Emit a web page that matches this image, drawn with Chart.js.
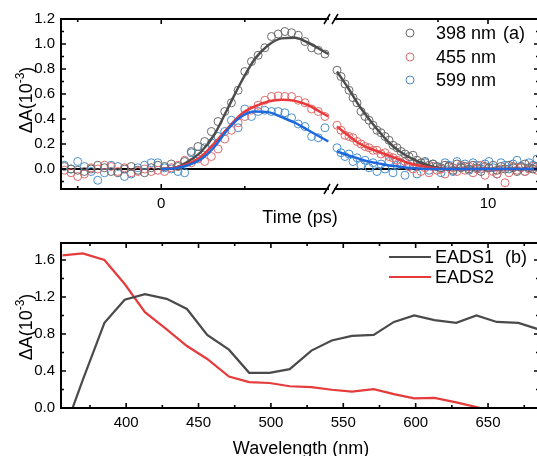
<!DOCTYPE html>
<html>
<head>
<meta charset="utf-8">
<script src="https://cdn.jsdelivr.net/npm/chart.js@4.4.0/dist/chart.umd.min.js"></script>
<style>
  html, body { margin: 0; padding: 0; background: #fff; overflow: hidden; }
  #wrap { position: relative; width: 537px; height: 456px; overflow: hidden; }
  canvas { position: absolute; left: 0; }
  #top { top: 0; }
  #bottom { top: 228px; }
</style>
</head>
<body>
<div id="wrap">
  <canvas id="top" width="545" height="228"></canvas>
  <canvas id="bottom" width="545" height="228"></canvas>
</div>
<script>
// Kinetics, before the axis break (ps)
const timeLeft = [-2.9, -2.7, -2.5, -2.3, -2.1, -1.9, -1.7, -1.5, -1.3, -1.1, -0.9, -0.7, -0.5, -0.3, -0.1,
  0.1, 0.3, 0.5, 0.7, 0.9, 1.1, 1.3, 1.5, 1.7, 1.9, 2.1, 2.3, 2.5, 2.7, 2.9, 3.1, 3.3, 3.5, 3.7, 3.9, 4.1, 4.3, 4.5, 4.7, 4.9];
const kin398Left = [0.02, 0.00, -0.01, -0.02, 0.00, 0.03, 0.01, -0.02, -0.03, 0.00, 0.02, -0.01, -0.03, 0.01, 0.03,
  0.02, 0.04, 0.02, 0.06, 0.14, 0.18, 0.22, 0.30, 0.38, 0.46, 0.53, 0.63, 0.78, 0.86, 0.91, 0.97, 1.06, 1.08, 1.10, 1.09, 1.07, 1.02, 0.97, 0.95, 0.92];
const kin455Left = [-0.01, -0.03, -0.06, -0.04, 0.01, 0.00, 0.03, 0.02, -0.02, 0.01, -0.03, -0.02, 0.00, -0.02, -0.01,
  -0.02, 0.01, 0.03, 0.07, 0.05, 0.08, 0.06, 0.10, 0.16, 0.24, 0.31, 0.37, 0.42, 0.47, 0.51, 0.55, 0.58, 0.585, 0.58, 0.58, 0.55, 0.53, 0.48, 0.46, 0.42];
const kin599Left = [0.03, 0.00, 0.06, 0.02, -0.02, -0.09, -0.03, 0.03, 0.02, -0.06, -0.04, 0.01, 0.03, 0.05, 0.05,
  0.01, 0.00, -0.02, -0.03, 0.13, 0.12, 0.17, 0.21, 0.26, 0.30, 0.39, 0.33, 0.48, 0.42, 0.46, 0.47, 0.46, 0.46, 0.45, 0.41, 0.36, 0.34, 0.26, 0.25, 0.33];

// Kinetics, after the axis break
const timeRight = [2.45, 2.65, 2.85, 3.05, 3.25, 3.45, 3.65, 3.85, 4.05, 4.25, 4.45, 4.65, 4.85, 5.05, 5.25, 5.45, 5.65,
  5.85, 6.05, 6.25, 6.45, 6.65, 6.85, 7.05, 7.25, 7.45, 7.65, 7.85, 8.05, 8.25, 8.45, 8.65, 8.85, 9.05, 9.25, 9.45,
  9.65, 9.85, 10.05, 10.25, 10.45, 10.65, 10.85, 11.05, 11.25, 11.45, 11.65, 11.85, 12.05, 12.25, 12.45];
const kin398Right = [0.79, 0.74, 0.68, 0.63, 0.57, 0.53, 0.46, 0.42, 0.39, 0.35, 0.31, 0.29, 0.26, 0.23, 0.19, 0.17, 0.14,
  0.12, 0.10, 0.11, 0.07, 0.05, 0.06, 0.03, 0.04, 0.02, 0.01, 0.03, 0.02, -0.01, 0.04, 0.01, 0.02, 0.00, 0.03, 0.01,
  -0.02, 0.02, 0.01, 0.03, -0.01, 0.02, 0.00, 0.03, 0.01, -0.02, 0.02, 0.04, 0.01, 0.00, 0.02];
const kin455Right = [0.35, 0.31, 0.27, 0.26, 0.25, 0.22, 0.20, 0.18, 0.17, 0.15, 0.15, 0.12, 0.13, 0.10, 0.09, 0.07, 0.04,
  0.06, 0.02, 0.00, 0.03, -0.02, 0.01, -0.03, 0.02, -0.01, 0.00, -0.04, 0.02, 0.01, -0.02, 0.03, -0.01, 0.02, -0.03, 0.00,
  0.03, -0.05, 0.01, -0.02, -0.04, 0.00, -0.11, -0.03, 0.02, -0.01, 0.01, -0.02, 0.00, 0.02, -0.01];
const kin599Right = [0.17, 0.13, 0.10, 0.12, 0.06, 0.09, 0.03, 0.07, 0.01, 0.05, -0.02, 0.04, 0.00, 0.06, -0.03, 0.03, 0.05,
  -0.05, 0.02, 0.04, -0.04, 0.03, 0.05, -0.01, 0.04, 0.02, -0.03, 0.05, 0.03, -0.02, 0.06, 0.02, 0.04, -0.01, 0.05, 0.03,
  0.00, 0.04, 0.06, 0.01, -0.04, 0.05, 0.03, 0.00, 0.04, 0.07, 0.02, -0.02, 0.05, 0.03, 0.08];

// Global fit curves
const fitTimeLeft = [0, 0.4, 0.8, 1.2, 1.6, 2.0, 2.4, 2.8, 3.2, 3.6, 4.0, 4.4, 4.8, 5.0];
const fit398Left = [0, 0.01, 0.06, 0.14, 0.28, 0.49, 0.70, 0.88, 0.99, 1.045, 1.05, 1.01, 0.95, 0.92];
const fit455Left = [0, 0.01, 0.04, 0.10, 0.21, 0.33, 0.44, 0.50, 0.54, 0.555, 0.545, 0.51, 0.45, 0.42];
const fit599Left = [0, 0.005, 0.03, 0.08, 0.18, 0.32, 0.42, 0.46, 0.455, 0.415, 0.37, 0.31, 0.25, 0.22];
const fitTimeRight = [2.45, 3.0, 3.5, 4.0, 4.5, 5.0, 5.5, 6.0, 6.5, 7.0, 7.5, 8.0, 12.45];
const fit398Right = [0.78, 0.65, 0.52, 0.41, 0.31, 0.22, 0.15, 0.10, 0.06, 0.03, 0.01, 0, 0];
const fit455Right = [0.34, 0.27, 0.21, 0.17, 0.14, 0.11, 0.08, 0.05, 0.03, 0.015, 0.005, 0, 0];
const fit599Right = [0.14, 0.11, 0.085, 0.06, 0.045, 0.03, 0.02, 0.01, 0.005, 0, 0, 0, 0];

const kineticLabels = ['398 nm', '455 nm', '599 nm'];

// Decay-associated spectra
const wavelength = [356, 370, 385, 399, 413, 428, 442, 456, 471, 485, 499, 513, 528, 542, 556, 571, 585, 599, 613, 628, 642, 656, 671, 685];
const eads1 = [-0.30, 0.30, 0.92, 1.17, 1.23, 1.18, 1.07, 0.79, 0.63, 0.38, 0.38, 0.42, 0.62, 0.73, 0.78, 0.79, 0.93, 1.00, 0.95, 0.92, 1.00, 0.93, 0.92, 0.85];
const eads2 = [1.65, 1.67, 1.60, 1.34, 1.035, 0.85, 0.67, 0.53, 0.34, 0.28, 0.27, 0.235, 0.225, 0.197, 0.176, 0.204, 0.15, 0.105, 0.109, 0.06, 0.01, -0.05, -0.09, -0.1];
const eadsLabels = ['EADS1', 'EADS2'];

// Tick values
const topYTicks = [0, 0.2, 0.4, 0.6, 0.8, 1.0, 1.2];
const topYMinor = [-0.1, 0.1, 0.3, 0.5, 0.7, 0.9, 1.1];
const timeTicksLeft = [0];
const timeMinorLeft = [-2.5, 2.5];
const timeTicksRight = [10];
const timeMinorRight = [7.5, 12.5];
const botYTicks = [0, 0.4, 0.8, 1.2, 1.6];
const botYMinor = [0.2, 0.6, 1.0, 1.4];
const waveTicks = [400, 450, 500, 550, 600, 650];
const waveMinor = [375, 425, 475, 525, 575, 625, 675];

const FONT = "'Liberation Sans', Arial, sans-serif";
const GRAY = '#4d4d4d', RED = '#e8393c', BLUE = '#1c68dc';
const GRAY_PT = '#6a6a6a', RED_PT = '#df6b6b', BLUE_PT = '#4a8fcd';

Chart.defaults.font.family = FONT;
Chart.defaults.color = '#000';

const pts = (xs, ys) => xs.map((x, i) => ({x: x, y: ys[i]}));

function drawYTitle(ctx, x, y) {
  ctx.save();
  ctx.translate(x, y);
  ctx.rotate(-Math.PI / 2);
  ctx.fillStyle = '#000';
  ctx.textAlign = 'left';
  ctx.textBaseline = 'alphabetic';
  ctx.font = '18px ' + FONT;
  const w1 = ctx.measureText('\u0394A(10').width;
  const w3 = ctx.measureText(')').width;
  ctx.font = '12px ' + FONT;
  const w2 = ctx.measureText('-3').width;
  let cx = -(w1 + w2 + w3) / 2;
  ctx.font = '18px ' + FONT;
  ctx.fillText('\u0394A(10', cx, 0);
  cx += w1;
  ctx.font = '12px ' + FONT;
  ctx.fillText('-3', cx, -8);
  cx += w2;
  ctx.font = '18px ' + FONT;
  ctx.fillText(')', cx, 0);
  ctx.restore();
}

// frame with inward ticks, axis break, legend and titles
const frame = {
  id: 'frame',
  beforeDatasetsDraw(chart, args, o) {
    if (!o.zero) return;
    const {ctx, chartArea: a} = chart;
    const y = chart.scales.y.getPixelForValue(0);
    ctx.save();
    ctx.strokeStyle = '#000';
    ctx.lineWidth = 1.8;
    ctx.beginPath();
    ctx.moveTo(a.left, y);
    ctx.lineTo(a.right, y);
    ctx.stroke();
    ctx.restore();
  },
  afterDatasetsDraw(chart, args, o) {
    const {ctx, chartArea: a} = chart;
    ctx.save();
    ctx.strokeStyle = '#000';
    ctx.lineWidth = 2;
    ctx.strokeRect(a.left, a.top, a.right - a.left, a.bottom - a.top);

    ctx.lineWidth = 1.6;
    ctx.beginPath();
    o.x.forEach(t => {
      const s = chart.scales[t.id];
      [[t.major, 5], [t.minor, 3]].forEach(([vals, len]) => vals.forEach(v => {
        const px = s.getPixelForValue(v);
        ctx.moveTo(px, a.bottom); ctx.lineTo(px, a.bottom - len);
        ctx.moveTo(px, a.top); ctx.lineTo(px, a.top + len);
      }));
    });
    const ys = chart.scales.y;
    [[o.y.major, 5], [o.y.minor, 3]].forEach(([vals, len]) => vals.forEach(v => {
      const py = ys.getPixelForValue(v);
      ctx.moveTo(a.left, py); ctx.lineTo(a.left + len, py);
      ctx.moveTo(a.right, py); ctx.lineTo(a.right - len, py);
    }));
    ctx.stroke();

    if (o.breakAt) {
      const bx = chart.scales[o.breakAt].left;
      [a.top, a.bottom].forEach(y => {
        ctx.fillStyle = '#fff';
        ctx.fillRect(bx - 3, y - 2, 5, 4);
        ctx.beginPath();
        ctx.lineWidth = 1.5;
        ctx.moveTo(bx - 8, y + 5); ctx.lineTo(bx - 2, y - 5);
        ctx.moveTo(bx + 0, y + 5); ctx.lineTo(bx + 6, y - 5);
        ctx.stroke();
      });
    }

    ctx.textBaseline = 'middle';
    o.legend.forEach(item => {
      if (item.kind === 'circle') {
        ctx.beginPath();
        ctx.lineWidth = 1;
        ctx.strokeStyle = item.color;
        ctx.arc(item.mx, item.y, 4, 0, Math.PI * 2);
        ctx.stroke();
      } else {
        ctx.beginPath();
        ctx.lineWidth = 2.2;
        ctx.strokeStyle = item.color;
        ctx.moveTo(item.mx - 21, item.y);
        ctx.lineTo(item.mx + 21, item.y);
        ctx.stroke();
      }
      ctx.fillStyle = '#000';
      ctx.font = '18px ' + FONT;
      ctx.textAlign = 'left';
      ctx.fillText(item.text, item.tx, item.y + 1);
    });
    ctx.fillText(o.tag.text, o.tag.x, o.tag.y + 1);

    ctx.textAlign = 'center';
    ctx.textBaseline = 'alphabetic';
    ctx.fillText(o.xTitle.text, o.xTitle.x, o.xTitle.y);
    drawYTitle(ctx, 32, o.yTitleY);
    ctx.restore();
  }
};

const yTickFmt = v => v.toFixed(1);

new Chart(document.getElementById('top'), {
  type: 'line',
  data: {
    datasets: [
      {data: pts(fitTimeLeft, fit599Left), xAxisID: 'xL', borderColor: BLUE, order: 0},
      {data: pts(fitTimeRight, fit599Right), xAxisID: 'xR', borderColor: BLUE, order: 0},
      {data: pts(fitTimeLeft, fit455Left), xAxisID: 'xL', borderColor: RED, order: 0},
      {data: pts(fitTimeRight, fit455Right), xAxisID: 'xR', borderColor: RED, order: 0},
      {data: pts(fitTimeLeft, fit398Left), xAxisID: 'xL', borderColor: GRAY, order: 0},
      {data: pts(fitTimeRight, fit398Right), xAxisID: 'xR', borderColor: GRAY, order: 0},
      {data: pts(timeLeft, kin398Left), xAxisID: 'xL', showLine: false, pointBorderColor: GRAY_PT, order: 1},
      {data: pts(timeRight, kin398Right), xAxisID: 'xR', showLine: false, pointBorderColor: GRAY_PT, order: 1},
      {data: pts(timeLeft, kin455Left), xAxisID: 'xL', showLine: false, pointBorderColor: RED_PT, order: 1},
      {data: pts(timeRight, kin455Right), xAxisID: 'xR', showLine: false, pointBorderColor: RED_PT, order: 1},
      {data: pts(timeLeft, kin599Left), xAxisID: 'xL', showLine: false, pointBorderColor: BLUE_PT, order: 1},
      {data: pts(timeRight, kin599Right), xAxisID: 'xR', showLine: false, pointBorderColor: BLUE_PT, order: 1}
    ].map(d => Object.assign({
      yAxisID: 'y',
      borderWidth: 2.5,
      cubicInterpolationMode: 'monotone',
      pointRadius: d.showLine === false ? 4 : 0,
      pointBorderWidth: 1,
      pointBackgroundColor: 'rgba(0,0,0,0)'
    }, d))
  },
  options: {
    responsive: false,
    animation: false,
    layout: {padding: {top: 19, left: 0, right: 6, bottom: 0}},
    plugins: {
      legend: {display: false},
      tooltip: {enabled: false},
      frame: {
        zero: true,
        breakAt: 'xR',
        x: [{id: 'xL', major: timeTicksLeft, minor: timeMinorLeft}, {id: 'xR', major: timeTicksRight, minor: timeMinorRight}],
        y: {major: topYTicks, minor: topYMinor},
        legend: [
          {kind: 'circle', color: GRAY_PT, mx: 410, tx: 436, y: 33, text: kineticLabels[0]},
          {kind: 'circle', color: RED_PT, mx: 410, tx: 436, y: 57, text: kineticLabels[1]},
          {kind: 'circle', color: BLUE_PT, mx: 410, tx: 436, y: 80, text: kineticLabels[2]}
        ],
        tag: {text: '(a)', x: 503, y: 33},
        xTitle: {text: 'Time (ps)', x: 300, y: 223},
        yTitleY: 100
      }
    },
    scales: {
      y: {
        type: 'linear', position: 'left', min: -0.16, max: 1.2,
        afterFit: s => { s.width = 61; },
        afterBuildTicks: s => { s.ticks = topYTicks.map(v => ({value: v})); },
        ticks: {font: {size: 15}, padding: 6, callback: yTickFmt},
        grid: {display: false, drawTicks: false},
        border: {display: false}
      },
      xL: {
        type: 'linear', position: 'bottom', stack: 'time', stackWeight: 271, min: -3, max: 5.11,
        afterFit: s => { s.height = 39; },
        afterBuildTicks: s => { s.ticks = timeTicksLeft.map(v => ({value: v})); },
        ticks: {font: {size: 15}, padding: 6, callback: v => String(v)},
        grid: {display: false, drawTicks: false},
        border: {display: false}
      },
      xR: {
        type: 'linear', position: 'bottom', stack: 'time', stackWeight: 207, min: 2.2, max: 12.55,
        afterFit: s => { s.height = 39; },
        afterBuildTicks: s => { s.ticks = timeTicksRight.map(v => ({value: v})); },
        ticks: {font: {size: 15}, padding: 6, callback: v => String(v)},
        grid: {display: false, drawTicks: false},
        border: {display: false}
      }
    }
  },
  plugins: [frame]
});

new Chart(document.getElementById('bottom'), {
  type: 'line',
  data: {
    datasets: [
      {label: eadsLabels[0], data: pts(wavelength, eads1), borderColor: '#4a4a4a'},
      {label: eadsLabels[1], data: pts(wavelength, eads2), borderColor: '#e53b3b'}
    ].map(d => Object.assign({borderWidth: 2.2, pointRadius: 0, tension: 0}, d))
  },
  options: {
    responsive: false,
    animation: false,
    layout: {padding: {top: 10, left: 0, right: 6, bottom: 0}},
    plugins: {
      legend: {display: false},
      tooltip: {enabled: false},
      frame: {
        zero: false,
        x: [{id: 'x', major: waveTicks, minor: waveMinor}],
        y: {major: botYTicks, minor: botYMinor},
        legend: [
          {kind: 'line', color: '#4a4a4a', mx: 410, tx: 435, y: 29, text: eadsLabels[0]},
          {kind: 'line', color: '#e53b3b', mx: 410, tx: 435, y: 49, text: eadsLabels[1]}
        ],
        tag: {text: '(b)', x: 505, y: 29},
        xTitle: {text: 'Wavelength (nm)', x: 301, y: 226},
        yTitleY: 99
      }
    },
    scales: {
      y: {
        type: 'linear', position: 'left', min: 0, max: 1.783,
        afterFit: s => { s.width = 61; },
        afterBuildTicks: s => { s.ticks = botYTicks.map(v => ({value: v})); },
        ticks: {font: {size: 15}, padding: 6, callback: yTickFmt},
        grid: {display: false, drawTicks: false},
        border: {display: false}
      },
      x: {
        type: 'linear', position: 'bottom', min: 355, max: 685.2,
        afterFit: s => { s.height = 48; },
        afterBuildTicks: s => { s.ticks = waveTicks.map(v => ({value: v})); },
        ticks: {font: {size: 15}, padding: 6, callback: v => String(v)},
        grid: {display: false, drawTicks: false},
        border: {display: false}
      }
    }
  },
  plugins: [frame]
});
</script>
</body>
</html>
